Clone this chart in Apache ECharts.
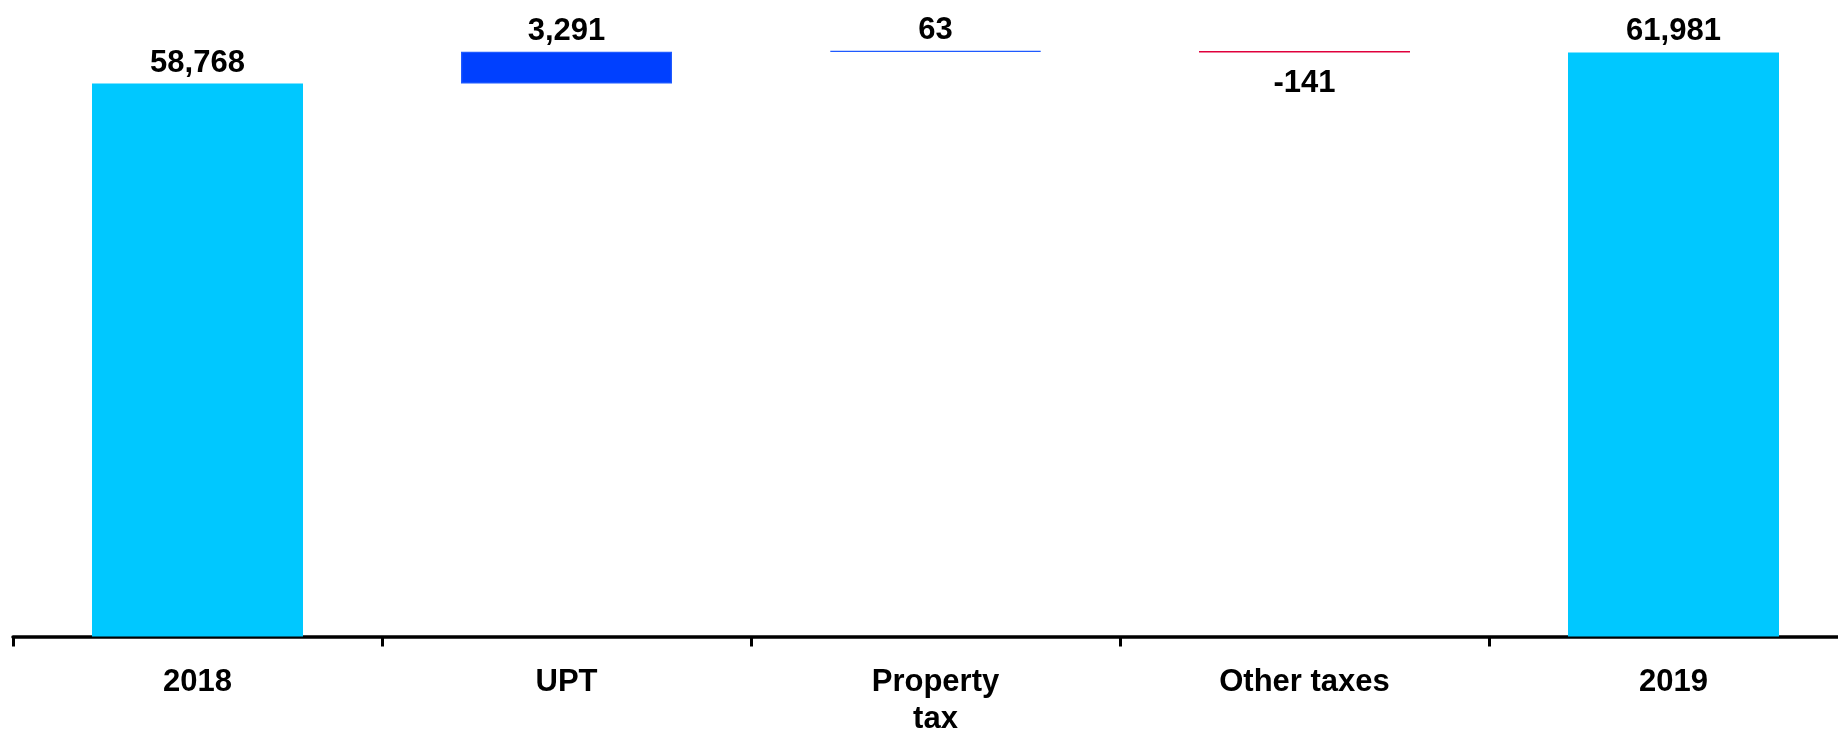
<!DOCTYPE html>
<html>
<head>
<meta charset="utf-8">
<script src="https://cdn.jsdelivr.net/npm/echarts@6/dist/echarts.min.js"></script>
<style>
html,body{margin:0;padding:0;background:#fff;}
#chart{width:1838px;height:731px;}
</style>
</head>
<body>
<div id="chart"></div>
<script>
const categories = ['2018', 'UPT', 'Property tax', 'Other taxes', '2019'];
const totals = [58768, null, null, null, 61981];
const increases = [null, 3291, 63, null, null];
const decreases = [null, null, null, 141, null];

// invisible base for floating bars, built from the values above
const base = [];
let running = 0;
for (let i = 0; i < categories.length; i++) {
  if (totals[i] != null) { base.push(0); running = totals[i]; }
  else if (increases[i] != null) { base.push(running); running += increases[i]; }
  else { running -= decreases[i]; base.push(running); }
}
const dash = a => a.map(v => v == null ? '-' : v);
const fmt = v => Number(v).toLocaleString('en-US');
const FONT = "'Liberation Sans', Arial, sans-serif";
const FS = 31;

const chart = echarts.init(document.getElementById('chart'), null, {renderer: 'canvas'});
chart.setOption({
  animation: false,
  grid: {left: 13, width: 1845, top: 0, bottom: 94.5, containLabel: false, outerBoundsMode: 'none'},
  xAxis: {
    type: 'category',
    data: categories,
    axisLine: {show: true, lineStyle: {color: '#000', width: 3.5}},
    axisTick: {show: true, length: 10, lineStyle: {color: '#000', width: 3}},
    axisLabel: {
      color: '#000', fontFamily: FONT, fontWeight: 'bold', fontSize: FS,
      margin: 27, lineHeight: 37, interval: 0,
      formatter: v => v === 'Property tax' ? 'Property\ntax' : v
    },
    splitLine: {show: false}
  },
  yAxis: {
    type: 'value', show: false, min: 1700, max: 67390,
    splitLine: {show: false}
  },
  series: [
    {
      type: 'bar', stack: 'w', silent: true, barWidth: 211,
      data: base,
      itemStyle: {color: 'rgba(0,0,0,0)'}
    },
    {
      type: 'bar', stack: 'w', barWidth: 211,
      data: dash(totals),
      itemStyle: {color: '#00c8ff'},
      label: {show: true, position: 'top', distance: 5, color: '#000',
        fontFamily: FONT, fontWeight: 'bold', fontSize: FS, formatter: p => fmt(p.value)}
    },
    {
      type: 'bar', stack: 'w', barWidth: 211,
      data: dash(increases),
      itemStyle: {color: '#0040ff', borderColor: '#1f5aff', borderWidth: 1.3},
      label: {show: true, position: 'top', distance: 5, color: '#000',
        fontFamily: FONT, fontWeight: 'bold', fontSize: FS, formatter: p => fmt(p.value)}
    },
    {
      type: 'bar', stack: 'w', barWidth: 211,
      data: dash(decreases),
      itemStyle: {color: '#e0003c', borderColor: '#e0003c', borderWidth: 1.3},
      label: {show: true, position: 'bottom', distance: 16, color: '#000',
        fontFamily: FONT, fontWeight: 'bold', fontSize: FS, formatter: p => '-' + fmt(p.value)}
    }
  ]
});
</script>
</body>
</html>
